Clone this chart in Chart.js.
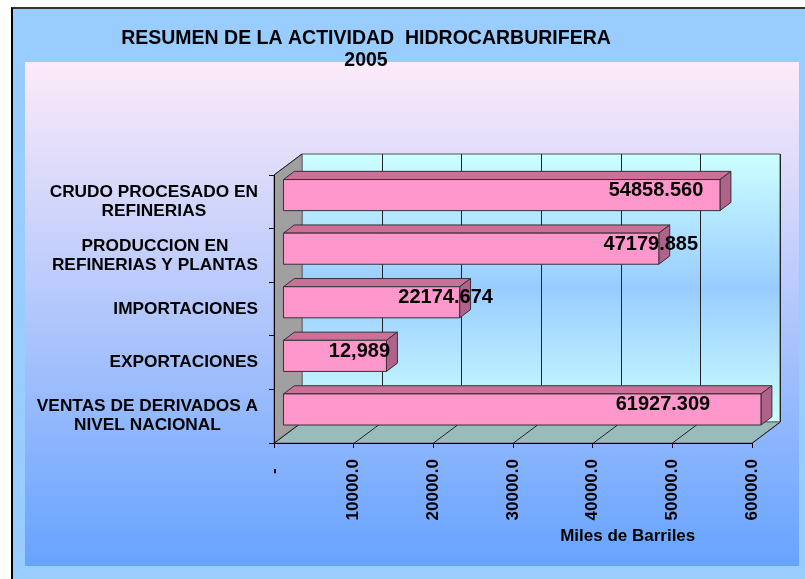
<!DOCTYPE html>
<html>
<head>
<meta charset="utf-8">
<script src="https://cdn.jsdelivr.net/npm/chart.js@4.4.1/dist/chart.umd.min.js"></script>
<style>
  body { margin:0; background:#fff; width:805px; height:579px; overflow:hidden; position:relative; }
  #frame { position:absolute; left:11px; top:7px; width:900px; height:700px; background:#99ccff; border-left:2px solid #000; border-top:2px solid #333; }
  #plotBg { position:absolute; left:25px; top:62px; width:774px; height:504px; background:linear-gradient(#fdeaf9, #66a3ff); }
  #wrap { position:absolute; left:0; top:0; width:805px; height:579px; }
</style>
</head>
<body>
<div id="frame"></div>
<div id="plotBg"></div>
<div id="wrap"><canvas id="chart" width="805" height="579"></canvas></div>
<script>
// data
const titleLines = ["RESUMEN DE LA ACTIVIDAD  HIDROCARBURIFERA", "2005"];
const categories = [
    ["CRUDO PROCESADO EN", "REFINERIAS"],
    ["PRODUCCION EN", "REFINERIAS Y PLANTAS"],
    ["IMPORTACIONES"],
    ["EXPORTACIONES"],
    ["VENTAS DE DERIVADOS A", "NIVEL NACIONAL"]
];
const values = [54858.560, 47179.885, 22174.674, 12989, 61927.309];
const valueLabels = ["54858.560", "47179.885", "22174.674", "12,989", "61927.309"];
const xTicks = [0, 10000, 20000, 30000, 40000, 50000, 60000];
const axisTitle = "Miles de Barriles";

// layout bits (pixels), not data
const labelShift = [-64, -8, -14, -27, -98];
const DX = 28, DY = -21;        // depth of the 3d box
const F0 = 0.32, F1 = 0.71;     // bar front / back inside the depth
const FONT = 'Arial, "Liberation Sans", sans-serif';

// little dotted texture for the bar fronts
function barPattern(ctx){
    const c = document.createElement('canvas');
    c.width = 4; c.height = 4;
    const p = c.getContext('2d');
    p.fillStyle = '#ff99cc';
    p.fillRect(0, 0, 4, 4);
    p.fillStyle = '#f58dc6';
    p.fillRect(0, 0, 1, 1);
    p.fillRect(2, 2, 1, 1);
    return ctx.createPattern(c, 'repeat');
}

function poly(ctx, pts, fill, stroke){
    ctx.beginPath();
    ctx.moveTo(pts[0][0], pts[0][1]);
    for(let i=1; i<pts.length; i++) ctx.lineTo(pts[i][0], pts[i][1]);
    ctx.closePath();
    if(fill){ ctx.fillStyle = fill; ctx.fill(); }
    if(stroke){ ctx.strokeStyle = stroke; ctx.stroke(); }
}

const hidro3d = {
    id: 'hidro3d',
    // walls and floor behind everything
    beforeDraw(chart){
        const {ctx, chartArea: a, scales: {x}} = chart;
        ctx.save();
        ctx.lineWidth = 1;
        const grad = ctx.createLinearGradient(0, a.top+DY, 0, a.bottom+DY);
        grad.addColorStop(0, '#ccffff');
        grad.addColorStop(0.5, '#99ccff');
        grad.addColorStop(1, '#ccffff');
        poly(ctx, [[a.left+DX, a.top+DY], [a.right+DX, a.top+DY], [a.right+DX, a.bottom+DY], [a.left+DX, a.bottom+DY]], grad, '#555');
        poly(ctx, [[a.left, a.top], [a.left+DX, a.top+DY], [a.left+DX, a.bottom+DY], [a.left, a.bottom]], '#a0a0a0', '#666');
        poly(ctx, [[a.left, a.bottom], [a.right, a.bottom], [a.right+DX, a.bottom+DY], [a.left+DX, a.bottom+DY]], '#99bbbb', '#666');
        ctx.strokeStyle = '#222';
        ctx.beginPath();
        ctx.moveTo(a.left, a.top); ctx.lineTo(a.left+DX, a.top+DY);
        xTicks.forEach(v => {
            const px = Math.round(x.getPixelForValue(v)) + 0.5;
            ctx.moveTo(px, a.bottom); ctx.lineTo(px+DX, a.bottom+DY);
            if(v > 0){
                ctx.moveTo(px+DX, a.bottom+DY); ctx.lineTo(px+DX, a.top+DY);
            }
        });
        ctx.stroke();
        ctx.restore();
    },
    // the 3d bars and their value labels
    afterDatasetsDraw(chart){
        const {ctx, scales: {x}} = chart;
        const meta = chart.getDatasetMeta(0);
        const xMax = x.getPixelForValue(x.max);
        const front = barPattern(ctx);
        const ddx = DX*(F1-F0), ddy = DY*(F1-F0);
        ctx.save();
        ctx.lineWidth = 1;
        ctx.lineJoin = 'round';
        meta.data.forEach((bar, i) => {
            const p = bar.getProps(['x', 'y', 'base', 'height'], true);
            const x0 = p.base + DX*F0, x1 = Math.min(p.x, xMax) + DX*F0;
            const yT = p.y - p.height/2 + DY*F0, yB = p.y + p.height/2 + DY*F0;
            poly(ctx, [[x0, yT], [x1, yT], [x1+ddx, yT+ddy], [x0+ddx, yT+ddy]], '#cc7099', '#333');
            poly(ctx, [[x1, yT], [x1+ddx, yT+ddy], [x1+ddx, yB+ddy], [x1, yB]], '#b0628a', '#333');
            poly(ctx, [[x0, yT], [x1, yT], [x1, yB], [x0, yB]], front, '#333');

            ctx.fillStyle = '#000';
            ctx.font = 'bold 20px ' + FONT;
            ctx.textAlign = 'center';
            ctx.textBaseline = 'middle';
            ctx.fillText(valueLabels[i], x1 + labelShift[i], (yT+yB)/2 - 4.5);
        });
        ctx.restore();
    },
    // titles and category labels
    afterDraw(chart){
        const {ctx, chartArea: a, scales: {y}} = chart;
        ctx.save();
        ctx.fillStyle = '#000';
        ctx.textBaseline = 'middle';
        ctx.textAlign = 'center';
        ctx.font = 'bold 19.5px ' + FONT;
        ctx.fillText(titleLines[0], 366, 39);
        ctx.fillText(titleLines[1], 366, 61);

        ctx.font = 'bold 17.3px ' + FONT;
        categories.forEach((lines, i) => {
            const cy = y.getPixelForValue(i);
            let w = 0;
            lines.forEach(t => { w = Math.max(w, ctx.measureText(t).width); });
            const cx = a.left - 16 - w/2;
            lines.forEach((t, k) => {
                ctx.fillText(t, cx, cy + (k - (lines.length-1)/2)*19);
            });
        });

        ctx.font = 'bold 17px ' + FONT;
        ctx.fillText(axisTitle, a.left + 0.74*(a.right-a.left), 536);
        ctx.restore();
    }
};

new Chart(document.getElementById('chart'), {
    type: 'bar',
    data: {
        labels: categories,
        datasets: [{
            data: values,
            backgroundColor: 'rgba(0,0,0,0)',
            borderWidth: 0,
            barPercentage: 0.58,
            categoryPercentage: 1
        }]
    },
    options: {
        indexAxis: 'y',
        responsive: false,
        animation: false,
        layout: { padding: { left: 0, top: 175, right: 53, bottom: 0 } },
        plugins: {
            legend: { display: false },
            title: { display: false },
            tooltip: { enabled: false }
        },
        scales: {
            x: {
                min: 0,
                max: 60000,
                afterFit: s => { s.height = 136; },
                grid: { drawOnChartArea: false, tickLength: 5, color: '#000' },
                border: { color: '#000' },
                ticks: {
                    stepSize: 10000,
                    minRotation: 90,
                    maxRotation: 90,
                    padding: 11,
                    color: '#000',
                    font: { family: FONT, size: 17, weight: 'bold' },
                    callback: v => v === 0 ? '-  ' : v.toFixed(1)
                }
            },
            y: {
                afterFit: s => { s.width = 274; },
                grid: { drawOnChartArea: false, tickLength: 5, color: '#000' },
                border: { color: '#000' },
                ticks: { display: false }
            }
        }
    },
    plugins: [hidro3d]
});
</script>
</body>
</html>
